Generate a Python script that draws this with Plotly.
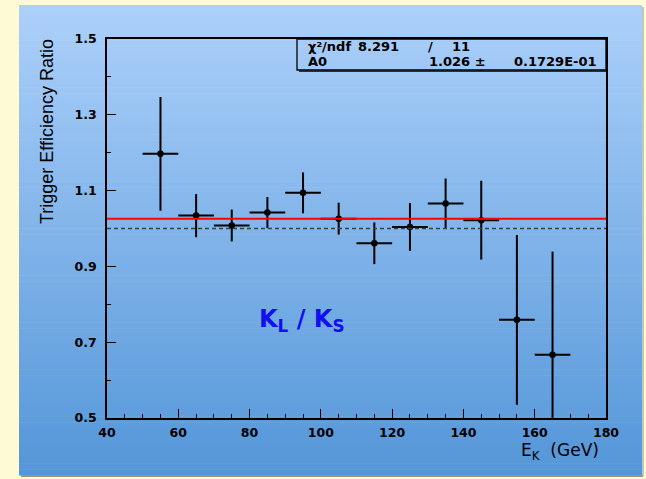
import plotly.graph_objects as go

# ---- data ----
energy = [55, 65, 75, 85, 95, 105, 115, 125, 135, 145, 155, 165]
ratio = [1.197, 1.034, 1.008, 1.042, 1.094, 1.026, 0.961, 1.004, 1.066, 1.022, 0.759, 0.667]
ratio_err = [0.150, 0.057, 0.042, 0.041, 0.054, 0.042, 0.055, 0.063, 0.066, 0.104, 0.224, 0.272]
bin_halfwidth = [5] * len(energy)
fit_value = 1.026
unity = 1.0
x_range = [40, 180]
y_range = [0.5, 1.5]
y_ticks = [0.5, 0.7, 0.9, 1.1, 1.3, 1.5]
y_ticklabels = ["0.5", "0.7", "0.9", "1.1", "1.3", "1.5"]
x_ticks = [40, 60, 80, 100, 120, 140, 160, 180]
x_ticklabels = ["40", "60", "80", "100", "120", "140", "160", "180"]

W, H = 646, 479
L, R, T, B = 107, 606, 39, 418


def xp(px):
    return (px - L) / (R - L)


def yp(py):
    return (B - py) / (B - T)


fig = go.Figure()

fig.add_trace(go.Scatter(
    x=energy, y=ratio, mode="markers",
    marker=dict(color="black", size=6.5, symbol="circle"),
    error_y=dict(type="data", array=ratio_err, color="black", thickness=2, width=0),
    error_x=dict(type="data", array=bin_halfwidth, color="black", thickness=2, width=0),
    showlegend=False, hoverinfo="skip",
))

shapes = []
# gradient panel
x0p, x1p = xp(19), xp(642)
top_px, bot_px = 5, 475
n = 80
c_top = (172, 208, 250)
c_bot = (84, 150, 216)
for i in range(n):
    f = (i + 0.5) / n
    c = tuple(int(round(c_top[k] + (c_bot[k] - c_top[k]) * f)) for k in range(3))
    py0 = top_px + (bot_px - top_px) * i / n
    py1 = top_px + (bot_px - top_px) * (i + 1) / n + 0.6
    shapes.append(dict(type="rect", xref="paper", yref="paper",
                       x0=x0p, x1=x1p, y0=yp(py1), y1=yp(py0),
                       fillcolor="rgb(%d,%d,%d)" % c, line=dict(width=0), layer="below"))
# panel shadow
shapes.append(dict(type="line", xref="paper", yref="paper", x0=xp(21), x1=xp(643),
                   y0=yp(476), y1=yp(476), line=dict(color="#9a9680", width=2), layer="below"))
shapes.append(dict(type="line", xref="paper", yref="paper", x0=xp(643), x1=xp(643),
                   y0=yp(7), y1=yp(476), line=dict(color="#b8b49a", width=1.5), layer="below"))

# fit line and unity line
shapes.append(dict(type="line", xref="x", yref="y", x0=x_range[0], x1=x_range[1],
                   y0=unity, y1=unity, line=dict(color="#36404a", width=1.3, dash="4px,3px")))
shapes.append(dict(type="line", xref="x", yref="y", x0=x_range[0], x1=x_range[1],
                   y0=fit_value, y1=fit_value, line=dict(color="#ff0000", width=2)))

# stats box
shapes.append(dict(type="rect", xref="paper", yref="paper", x0=xp(297), x1=xp(606),
                   y0=yp(70), y1=yp(39), fillcolor="rgba(0,0,0,0)",
                   line=dict(color="black", width=1.3)))
shapes.append(dict(type="line", xref="paper", yref="paper", x0=xp(299), x1=xp(606),
                   y0=yp(71.2), y1=yp(71.2), line=dict(color="black", width=1.3)))

fig.update_layout(shapes=shapes)

sfont = dict(family="DejaVu Sans", size=13, color="black", weight="bold")
ann = [
    dict(x=xp(306), y=yp(47), text="χ²/ndf", xanchor="left", yanchor="middle", font=sfont),
    dict(x=xp(401), y=yp(47), text="8.291", xanchor="right", yanchor="middle", font=sfont),
    dict(x=xp(430), y=yp(47), text="/", xanchor="center", yanchor="middle", font=sfont),
    dict(x=xp(472), y=yp(47), text="11", xanchor="right", yanchor="middle", font=sfont),
    dict(x=xp(306), y=yp(62), text="A0", xanchor="left", yanchor="middle", font=sfont),
    dict(x=xp(488), y=yp(62), text="1.026 ±", xanchor="right", yanchor="middle", font=sfont),
    dict(x=xp(599), y=yp(62), text="0.1729E-01", xanchor="right", yanchor="middle", font=sfont),
    dict(x=xp(47), y=yp(132), text="Trigger Efficiency Ratio", textangle=-90,
         xanchor="center", yanchor="middle",
         font=dict(family="Liberation Sans, Arial", size=18, color="black")),
    dict(x=xp(601), y=yp(451), text="E<sub>K</sub>  (GeV)", xanchor="right", yanchor="middle",
         font=dict(family="DejaVu Sans", size=17, color="black")),
    dict(x=xp(301), y=yp(320), text="K<sub>L</sub> / K<sub>S</sub>", xanchor="center", yanchor="middle",
         font=dict(family="DejaVu Sans", size=24, color="#1010f0", weight="bold")),
]
for a in ann:
    a.setdefault("xref", "paper")
    a.setdefault("yref", "paper")
    a["showarrow"] = False
fig.update_layout(annotations=ann)

tickfont = dict(family="DejaVu Sans", size=12.5, color="black", weight="bold")
fig.update_xaxes(range=x_range, tickvals=x_ticks, ticktext=x_ticklabels,
                 ticks="inside", ticklen=9, tickwidth=1, tickcolor="black",
                 minor=dict(dtick=5, tick0=40, ticks="inside", ticklen=4, tickcolor="black", tickwidth=1),
                 showline=True, linecolor="black", linewidth=1.5, mirror=True,
                 showgrid=False, zeroline=False, tickfont=tickfont, ticklabelstandoff=2)
fig.update_yaxes(range=y_range, tickvals=y_ticks, ticktext=y_ticklabels,
                 ticks="inside", ticklen=9, tickwidth=1, tickcolor="black",
                 minor=dict(dtick=0.1, tick0=0.5, ticks="inside", ticklen=4, tickcolor="black", tickwidth=1),
                 showline=True, linecolor="black", linewidth=1.5, mirror=True,
                 showgrid=False, zeroline=False, tickfont=tickfont, ticklabelstandoff=6)

fig.update_layout(
    width=W, height=H,
    margin=dict(l=L, r=W - R, t=T, b=H - B),
    paper_bgcolor="#fffad6",
    plot_bgcolor="rgba(0,0,0,0)",
    showlegend=False,
)

fig.write_html("out.html")
